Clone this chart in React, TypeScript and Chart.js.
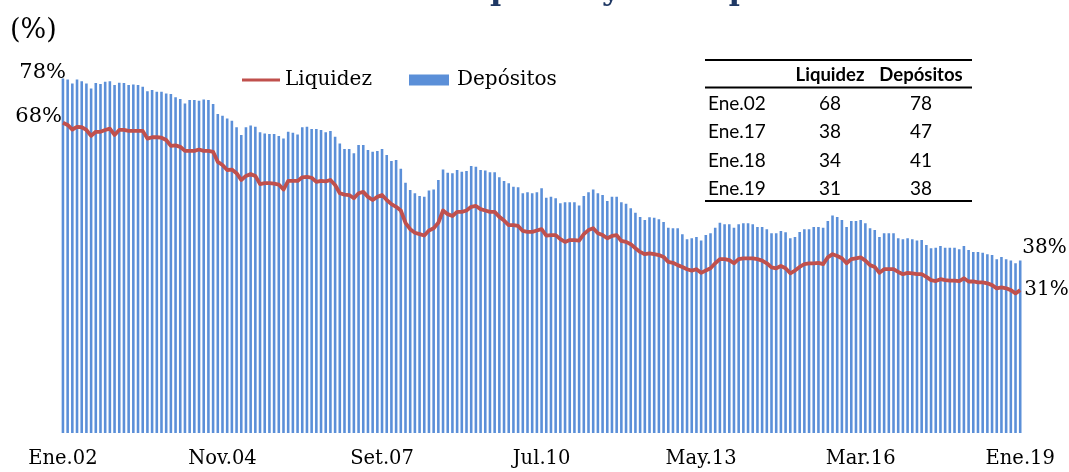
import React, { useEffect, useRef } from 'react';
import { Chart, registerables } from 'chart.js';

Chart.register(...registerables);

const MONTHS = ['Ene', 'Feb', 'Mar', 'Abr', 'May', 'Jun', 'Jul', 'Ago', 'Set', 'Oct', 'Nov', 'Dic'];
const START_YEAR = 2002;
const TICK_STEP = 34;

const TITLE = 'Dolarización de la liquidez y los depósitos';
const UNIT_LABEL = '(%)';

const liquidez = [
  68.2, 67.7, 66.7, 67.3, 67.2, 66.6, 65.3, 66.2, 66.2, 66.6,
  66.9, 65.5, 66.6, 66.6, 66.4, 66.4, 66.4, 66.4, 64.7, 65.0,
  65.0, 64.9, 64.4, 63.1, 63.2, 62.9, 62.0, 62.0, 62.0, 62.3,
  62.0, 62.0, 61.8, 59.6, 58.9, 57.8, 57.9, 57.1, 55.6, 56.5,
  56.9, 56.5, 54.7, 54.9, 54.9, 54.8, 54.6, 53.5, 55.4, 55.4,
  55.4, 56.2, 56.3, 56.1, 55.2, 55.4, 55.3, 55.6, 54.5,
  52.7, 52.4, 52.3, 51.6, 52.7, 53.0, 51.9, 51.2, 51.9,
  52.3, 51.2, 50.3, 49.7, 48.9, 46.2, 44.8, 44.0, 43.7, 43.4,
  44.5, 45.0, 46.2, 48.9, 48.1, 47.7, 48.6, 48.6, 48.9, 49.7,
  49.9, 49.2, 48.9, 48.6, 48.6, 47.5, 46.7, 45.7, 45.7, 45.5,
  44.4, 44.2, 44.2, 44.5, 44.8, 43.4, 43.5, 43.5, 42.6, 42.0,
  42.4, 42.4, 42.3, 43.7, 44.6, 45.0, 43.9, 43.5, 42.8, 43.3,
  43.5, 42.2, 42.0, 41.5, 40.6, 39.8, 39.3, 39.5, 39.3, 39.1,
  38.7, 37.6, 37.4, 36.9,
  36.5, 36.0, 35.7, 36.0, 35.2, 35.7, 36.2, 37.3, 38.2, 38.2,
  38.0, 37.3, 38.2, 38.4, 38.4, 38.4, 38.2, 37.9, 37.3, 36.4,
  36.2, 36.7, 36.2, 35.1, 35.7, 36.5, 37.1, 37.3, 37.3, 37.4,
  37.1, 38.6, 39.3, 38.9, 38.4, 37.3, 38.2, 38.4, 38.6, 37.9,
  36.9, 36.5, 35.2, 36.0, 36.0, 36.0, 35.4, 34.9, 35.2, 35.1,
  34.9,
  34.9, 34.3, 33.6, 33.4, 33.8, 33.6, 33.5, 33.5, 33.4, 34.0,
  33.3, 33.3, 33.1, 33.1, 32.9, 32.5, 31.8, 32.0, 31.8, 31.4,
  30.7, 31.4,
];

const depositos = [
  77.9, 77.7, 76.8, 77.7, 77.3, 76.8, 75.7, 76.9, 76.7, 77.2,
  77.3, 76.5, 77.0, 76.9, 76.5, 76.6, 76.5, 76.1, 75.1, 75.4,
  75.0, 75.0, 74.6, 74.5, 73.8, 73.4, 72.4, 73.2, 73.2, 73.0,
  73.3, 73.2, 72.3, 70.1, 69.7, 69.1, 68.6, 67.2, 65.5, 67.2,
  67.6, 67.3, 66.1, 65.8, 65.7, 65.7, 65.3, 64.7, 66.2, 66.0,
  65.6, 67.2, 67.3, 66.8, 66.8, 66.6, 66.1, 66.4, 65.1,
  63.6, 62.4, 62.4, 61.5, 63.3, 63.3, 62.2, 61.8, 62.0,
  62.4, 61.1, 59.8, 60.0, 58.1, 55.0, 53.4, 52.7, 52.1, 51.9,
  53.3, 53.5, 55.6, 57.9, 57.2, 57.1, 57.8, 57.4, 57.6, 58.7,
  58.5, 57.8, 57.7, 57.3, 57.3, 56.2, 55.4, 54.9, 54.1, 54.0,
  52.7, 52.9, 52.7, 52.9, 53.8, 51.7, 51.9, 51.6, 50.5, 50.7,
  50.7, 50.7, 50.0, 52.1, 52.9, 53.5, 52.7, 52.3, 51.0, 51.9,
  51.9, 50.7, 50.4, 49.4, 48.4, 47.5, 46.8, 47.4, 47.3, 47.0,
  46.4, 45.1, 45.0, 45.0,
  43.7, 42.6, 42.8, 43.1, 42.3, 43.5, 43.9, 45.1, 46.2, 45.9,
  45.9, 45.1, 45.9, 46.1, 46.1, 45.9, 45.3, 45.3, 44.8, 43.9,
  43.9, 44.4, 44.1, 42.8, 43.1, 44.2, 44.8, 44.8, 45.3, 45.3,
  45.1, 46.6, 47.8, 47.5, 46.8, 45.3, 46.6, 46.6, 46.8, 46.1,
  45.0, 44.6, 43.1, 43.9, 43.9, 43.9, 42.8, 42.6, 42.8, 42.6,
  42.3,
  42.4, 41.3, 40.6, 40.7, 41.1, 40.7, 40.7, 40.7, 40.4, 41.1,
  40.2, 39.8, 39.8, 39.6, 39.3, 39.1, 38.2, 38.7, 38.2, 37.9,
  37.3, 37.9,
];

const tableHeaders = ['Liquidez', 'Depósitos'];
const tableRows = ['Ene.02', 'Ene.17', 'Ene.18', 'Ene.19'];
const tableLiquidez = [68, 38, 34, 31];
const tableDepositos = [78, 47, 41, 38];

const labels = depositos.map((_, i) => {
  const yr = (START_YEAR + Math.floor(i / 12)) % 100;
  return `${MONTHS[i % 12]}.${String(yr).padStart(2, '0')}`;
});

const SERIF = '"DejaVu Serif", serif';
const SANS = 'Lato, "Open Sans", sans-serif';
const RED = '#C0504D';
const BLUE = '#5b8fd8';

const annotationsPlugin = {
  id: 'annotations',
  afterDraw(chart: any) {
    const ctx = chart.ctx as CanvasRenderingContext2D;
    const xs = chart.scales.x;
    const ys = chart.scales.y;
    ctx.save();

    // Title (cut by the top edge: only descenders show)
    ctx.font = `bold 30px ${SERIF}`;
    ctx.fillStyle = '#1F3864';
    ctx.textAlign = 'left';
    ctx.textBaseline = 'alphabetic';
    const pre = ctx.measureText('Dolarización de la li').width;
    const qW = ctx.measureText('q').width;
    ctx.fillText(TITLE, 497 - pre - qW * 0.8, 0);

    // Unit label
    ctx.fillStyle = '#000';
    ctx.font = `27px ${SERIF}`;
    ctx.textBaseline = 'middle';
    ctx.fillText(UNIT_LABEL, 10, 31);

    // Legend (from the datasets)
    const ds = chart.data.datasets;
    ctx.font = `20px ${SERIF}`;
    ctx.textBaseline = 'middle';
    ctx.textAlign = 'left';
    const legY = 80;
    ctx.strokeStyle = ds[0].borderColor;
    ctx.lineWidth = 3;
    ctx.beginPath();
    ctx.moveTo(242, legY);
    ctx.lineTo(280, legY);
    ctx.stroke();
    ctx.fillStyle = '#000';
    ctx.fillText(ds[0].label, 285, legY);
    ctx.fillStyle = ds[1].backgroundColor;
    ctx.fillRect(409, legY - 5.5, 40, 11);
    ctx.fillStyle = '#000';
    ctx.fillText(ds[1].label, 457, legY);

    // End labels
    const n = depositos.length - 1;
    const x0 = xs.getPixelForValue(0);
    const xn = xs.getPixelForValue(n);
    ctx.font = `21px ${SERIF}`;
    ctx.textAlign = 'right';
    ctx.fillText(`${Math.round(depositos[0])}%`, x0 + 3, ys.getPixelForValue(depositos[0]) - 6);
    ctx.fillText(`${Math.round(liquidez[0])}%`, x0 - 1, ys.getPixelForValue(liquidez[0]) - 6);
    ctx.font = `20px ${SERIF}`;
    ctx.textAlign = 'left';
    ctx.fillText(`${Math.round(depositos[n])}%`, xn + 2, ys.getPixelForValue(depositos[n]) - 13);
    ctx.fillText(`${Math.round(liquidez[n])}%`, xn + 4, ys.getPixelForValue(liquidez[n]));

    // Table
    const tL = 705, tR = 972;
    ctx.strokeStyle = '#000';
    ctx.lineWidth = 2;
    [60, 87.5, 201].forEach((yy) => {
      ctx.beginPath();
      ctx.moveTo(tL, yy);
      ctx.lineTo(tR, yy);
      ctx.stroke();
    });
    ctx.fillStyle = '#000';
    ctx.textBaseline = 'middle';
    ctx.textAlign = 'center';
    const colX = [830, 921];
    ctx.font = `bold 18.5px ${SANS}`;
    tableHeaders.forEach((h, i) => ctx.fillText(h, colX[i], 75));
    ctx.font = `19px ${SANS}`;
    tableRows.forEach((r, i) => {
      const yy = 104 + i * 28.3;
      ctx.textAlign = 'left';
      ctx.fillText(r, 708, yy);
      ctx.textAlign = 'center';
      ctx.fillText(String(tableLiquidez[i]), colX[0], yy);
      ctx.fillText(String(tableDepositos[i]), colX[1], yy);
    });
    ctx.restore();
  },
};

export default function App() {
  const ref = useRef<HTMLCanvasElement | null>(null);

  useEffect(() => {
    if (!ref.current) return;
    const chart = new Chart(ref.current, {
      type: 'bar',
      data: {
        labels,
        datasets: [
          {
            type: 'line',
            label: 'Liquidez',
            data: liquidez,
            borderColor: RED,
            backgroundColor: RED,
            borderWidth: 3.8,
            pointRadius: 0,
            tension: 0,
            borderJoinStyle: 'round',
            order: 0,
          } as any,
          {
            type: 'bar',
            label: 'Depósitos',
            data: depositos,
            backgroundColor: BLUE,
            borderWidth: 0,
            barPercentage: 0.55,
            categoryPercentage: 1,
            order: 1,
          } as any,
        ],
      },
      options: {
        responsive: false,
        animation: false,
        devicePixelRatio: 1,
        layout: { padding: { left: 60.6, right: 46, top: 69, bottom: 0 } },
        plugins: {
          legend: { display: false },
          tooltip: { enabled: false },
          title: { display: false },
        },
        scales: {
          x: {
            grid: { display: false, drawTicks: false },
            border: { display: false },
            afterFit: (scale: any) => {
              scale.height = 39;
            },
            ticks: {
              autoSkip: false,
              maxRotation: 0,
              minRotation: 0,
              padding: 14,
              color: '#000',
              font: { family: SERIF, size: 19.5 },
              callback: (_v: any, i: number) => (i % TICK_STEP === 0 ? labels[i] : ''),
            },
          },
          y: {
            display: false,
            min: 0,
            max: 80,
          },
        },
      },
      plugins: [annotationsPlugin],
    });
    return () => chart.destroy();
  }, []);

  return (
    <div style={{ position: 'fixed', left: 0, top: 0, width: 1069, height: 472, background: '#fff', overflow: 'hidden' }}>
      <canvas ref={ref} width={1069} height={472} style={{ display: 'block', width: 1069, height: 472 }} />
    </div>
  );
}
